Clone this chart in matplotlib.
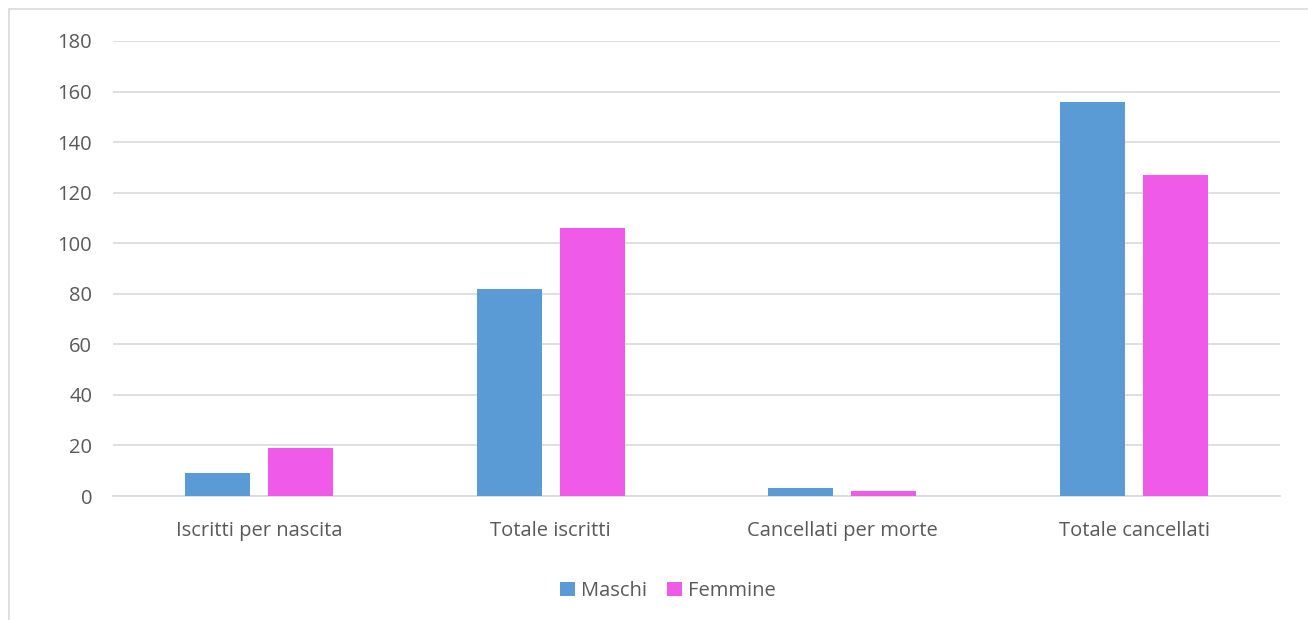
import matplotlib.pyplot as plt
import numpy as np
from matplotlib.patches import Rectangle

categories = ['Iscritti per nascita', 'Totale iscritti', 'Cancellati per morte', 'Totale cancellati']
maschi = [9, 82, 3, 156]
femmine = [19, 106, 2, 127]

plt.rcParams['font.family'] = ['Open Sans', 'DejaVu Sans']
text_color = '#595959'

fig = plt.figure(figsize=(13.08, 6.2), dpi=100)
ax = fig.add_axes([113 / 1308, 124 / 620, 1167 / 1308, 455 / 620])

x = np.arange(len(categories))
w = 0.223
gap = 0.062
ax.bar(x - (w + gap) / 2, maschi, w, color='#5b9bd5', label='Maschi', zorder=3)
ax.bar(x + (w + gap) / 2, femmine, w, color='#f05ae8', label='Femmine', zorder=3)

ax.set_xlim(-0.5, len(categories) - 0.5)
ax.set_ylim(0, 180)
ax.set_yticks(range(0, 181, 20))
ax.set_xticks(x)
ax.set_xticklabels(categories)
ax.grid(axis='y', color='#d9d9d9', linewidth=1.2, zorder=0)
for s in ['top', 'right', 'left']:
    ax.spines[s].set_visible(False)
ax.spines['bottom'].set_color('#d9d9d9')
ax.spines['bottom'].set_linewidth(1.2)
ax.tick_params(axis='both', length=0, labelsize=14.5, colors=text_color)
ax.tick_params(axis='x', pad=18)
ax.tick_params(axis='y', pad=15)

fig.legend(loc='center', bbox_to_anchor=(668 / 1308, 29 / 620), ncol=2, frameon=False,
           fontsize=14.5, labelcolor=text_color, handlelength=0.75, handleheight=0.75,
           handletextpad=0.3, columnspacing=1.0)

fig.patches.append(Rectangle((9 / 1308, -0.01), 1.01, (620 - 9) / 620 + 0.01,
                             transform=fig.transFigure, fill=False,
                             edgecolor='#d9d9d9', linewidth=1.2))

fig.savefig('out.png', dpi=100)
